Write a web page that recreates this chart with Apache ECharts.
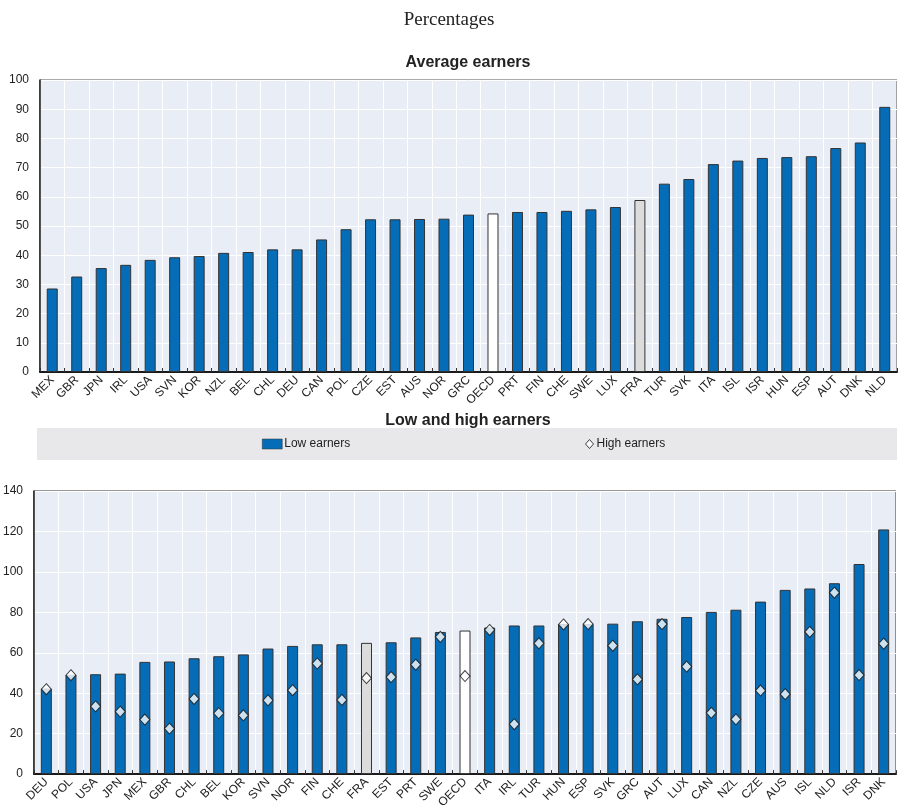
<!DOCTYPE html>
<html><head><meta charset="utf-8">
<script src="https://cdn.jsdelivr.net/npm/echarts@6/dist/echarts.min.js"></script>
<style>html,body{margin:0;padding:0;background:#fff}#c{width:898px;height:811px}</style>
</head><body><div id="c"></div>
<script>
const avgCats = ["MEX","GBR","JPN","IRL","USA","SVN","KOR","NZL","BEL","CHL","DEU","CAN","POL","CZE","EST","AUS","NOR","GRC","OECD","PRT","FIN","CHE","SWE","LUX","FRA","TUR","SVK","ITA","ISL","ISR","HUN","ESP","AUT","DNK","NLD"];
const avgVals = [28.6,32.7,35.6,36.7,38.4,39.3,39.7,40.8,41.1,42.0,42.0,45.4,48.9,52.3,52.3,52.4,52.5,53.9,54.3,54.8,54.8,55.2,55.7,56.5,58.9,64.5,66.1,71.2,72.4,73.3,73.6,73.9,76.7,78.6,90.8];

const lhCats = ["DEU","POL","USA","JPN","MEX","GBR","CHL","BEL","KOR","SVN","NOR","FIN","CHE","FRA","EST","PRT","SWE","OECD","ITA","IRL","TUR","HUN","ESP","SVK","GRC","AUT","LUX","CAN","NZL","CZE","AUS","ISL","NLD","ISR","DNK"];
const lowVals = [42.3,49.1,49.4,49.7,55.5,55.7,57.3,58.3,59.2,62.1,63.4,64.2,64.2,64.9,65.2,67.6,70.3,71.0,72.5,73.5,73.5,74.2,74.2,74.4,75.6,76.8,77.7,80.2,81.3,85.3,91.1,91.8,94.4,103.9,121.0];
const highVals = [42.0,48.9,33.5,30.9,27.0,22.5,37.2,30.1,29.1,36.5,41.5,54.7,36.7,47.5,48.0,54.1,67.9,48.5,71.3,24.7,64.7,74.0,74.2,63.5,46.9,74.2,53.2,30.3,27.1,41.3,39.5,70.3,89.7,49.0,64.5];

const BLUE = '#056db7';
function barColor(c){ return c==='OECD' ? '#ffffff' : (c==='FRA' ? '#dcdcdc' : BLUE); }
function barData(cats, vals){
  return vals.map((v,i)=>({value:v, itemStyle:{color:barColor(cats[i])}}));
}
const FONT = '"Liberation Sans Narrow","Liberation Sans",Arial,sans-serif';
const chart = echarts.init(document.getElementById('c'));
const catAxis = (gi, cats) => ({
  type:'category', gridIndex:gi, data:cats, boundaryGap:true,
  axisLine:{lineStyle:{color:'#1a1a1a', width:2}},
  axisTick:{show:true, inside:true, length:4, lineStyle:{color:'#333'}},
  splitLine:{show:true, lineStyle:{color:'#ffffff', width:1}},
  axisLabel:{rotate:45, interval:0, fontSize:12, color:'#222', fontFamily:FONT, margin:6}
});
const valAxis = (gi, max, interval) => ({
  type:'value', gridIndex:gi, min:0, max:max, interval:interval,
  axisLine:{show:true, lineStyle:{color:'#1a1a1a', width:1.5}},
  axisTick:{show:false},
  splitLine:{show:true, lineStyle:{color:'#ffffff', width:1}},
  axisLabel:{fontSize:12, color:'#222', fontFamily:FONT, margin:11}
});
chart.setOption({
  animation:false,
  textStyle:{fontFamily:FONT},
  title:[
    {text:'Percentages', left:'center', top:6, textStyle:{fontFamily:'"Liberation Serif","Times New Roman",serif', fontWeight:'normal', fontSize:19, color:'#222'}},
    {text:'Average earners', left:463, textAlign:'center', top:50, textStyle:{fontFamily:'"Liberation Sans",Arial,sans-serif', fontWeight:'bold', fontSize:16, color:'#222'}},
    {text:'Low and high earners', left:463, textAlign:'center', top:408, textStyle:{fontFamily:'"Liberation Sans",Arial,sans-serif', fontWeight:'bold', fontSize:16, color:'#222'}}
  ],
  graphic:[
    {type:'rect', shape:{x:37, y:428, width:860, height:32}, style:{fill:'#e8e8ea'}, silent:true, z:-1}
  ],
  legend:[
    {data:[{name:'Low earners', icon:'rect', itemStyle:{color:BLUE, borderColor:'#333', borderWidth:0.5}}], left:257, top:433, itemWidth:20, itemHeight:10, itemGap:4,
     textStyle:{fontSize:12, color:'#222', fontFamily:FONT, padding:[0,0,0,-3]}},
    {data:[{name:'High earners', icon:'diamond', itemStyle:{color:'#ffffff', borderColor:'#111', borderWidth:1}}], left:580, top:433, itemWidth:8, itemHeight:9,
     textStyle:{fontSize:12, color:'#222', fontFamily:FONT, padding:[0,0,0,-2]}}
  ],
  grid:[
    {left:40, right:1, top:80, bottom:439, show:true, backgroundColor:'#e9edf6', borderColor:'#555', borderWidth:1},
    {left:31, right:2, top:491, bottom:30, show:true, backgroundColor:'#e9edf6', borderColor:'#333', borderWidth:1}
  ],
  xAxis:[catAxis(0, avgCats), catAxis(1, lhCats)],
  yAxis:[valAxis(0, 100, 10), valAxis(1, 140, 20)],
  series:[
    {name:'Average earners', type:'bar', xAxisIndex:0, yAxisIndex:0, barWidth:11,
     data:barData(avgCats, avgVals), itemStyle:{borderColor:'#333', borderWidth:1}},
    {name:'Low earners', type:'bar', xAxisIndex:1, yAxisIndex:1, barWidth:11,
     data:barData(lhCats, lowVals), itemStyle:{color:BLUE, borderColor:'#333', borderWidth:1}},
    {name:'High earners', type:'scatter', xAxisIndex:1, yAxisIndex:1, symbol:'diamond', symbolSize:[10,11],
     data:highVals, itemStyle:{color:'#ffffff', borderColor:'#111', borderWidth:1}, z:5}
  ]
});
</script></body></html>
